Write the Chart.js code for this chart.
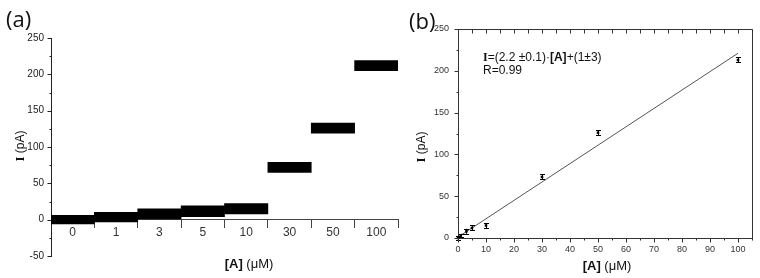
<!DOCTYPE html>
<html><head><meta charset="utf-8">
<script src="https://cdn.jsdelivr.net/npm/chart.js@4.4.0/dist/chart.umd.min.js"></script>
<style>
html,body{margin:0;padding:0;background:#fff;}
#wrap{position:relative;width:760px;height:278px;overflow:hidden;font-family:"Liberation Sans",Arial,sans-serif;color:#111;}
canvas{position:absolute;top:0;}
.lbl{position:absolute;white-space:nowrap;line-height:1;}
.panel{font-family:"Open Sans",sans-serif;font-size:22px;color:#111;}
.xtitle{transform:translate(-50%,-50%);font-size:13px;}
.ser{font-family:"Liberation Serif","DejaVu Serif",serif;font-weight:bold;}
</style></head>
<body>
<div id="wrap">
<canvas id="ca" width="405" height="278" style="left:0"></canvas>
<canvas id="cb" width="365" height="278" style="left:395px"></canvas>
<div class="lbl panel" style="left:6px;top:7px">(a)</div>
<div class="lbl panel" style="left:409px;top:9px">(b)</div>
<div class="lbl xtitle" style="left:249px;top:263px"><b>[A]</b> (μM)</div>
<div class="lbl xtitle" style="left:607px;top:265px"><b>[A]</b> (μM)</div>
<div class="lbl" style="left:483px;top:51px;font-size:12px"><span class="ser">I</span>=(2.2 ±0.1)·<b>[A]</b>+(1±3)</div>
<div class="lbl" style="left:483px;top:64px;font-size:12px">R=0.99</div>
</div>
<script>
// ---- data ----
const concLabels = ['0','1','3','5','10','30','50','100'];
const traceLow  = [-6, -3, 1, 4, 8, 65, 119, 205];
const traceHigh = [6, 10, 15, 19, 22, 79, 133, 219];
const concValues = [0, 1, 3, 5, 10, 30, 50, 100];
const meanCurrent = [0, 3, 8, 12, 15, 73, 126, 213];
const currentErr = [2, 2, 3, 3, 3, 3, 3, 3];
const fitX = [0, 100];
const fitY = [1, 221];

Chart.defaults.font.family = "'Liberation Sans', Arial, sans-serif";
Chart.defaults.animation = false;

const tickPlugin = {
  id: 'customTicks',
  afterDraw(chart, args, opts) {
    const ctx = chart.ctx, ca = chart.chartArea;
    ctx.save();
    ctx.strokeStyle = opts.color || '#222';
    ctx.lineWidth = 1;
    if (opts.box) {
      ctx.beginPath();
      ctx.moveTo(Math.round(ca.left) + 0.5, Math.round(ca.top) + 0.5);
      ctx.lineTo(Math.round(ca.right) + 0.5, Math.round(ca.top) + 0.5);
      ctx.lineTo(Math.round(ca.right) + 0.5, Math.round(ca.bottom) + 0.5);
      ctx.stroke();
    }
    (opts.axes || []).forEach(a => {
      const s = chart.scales[a.id];
      s.ticks.forEach(t => {
        const major = Math.abs(t.value % a.major) < 1e-9;
        const len = major ? a.majorLen : a.minorLen;
        const p = Math.round(s.getPixelForValue(t.value)) + 0.5;
        ctx.beginPath();
        if (a.side === 'left') {
          const x = Math.round(ca.left) + 0.5;
          ctx.moveTo(x - len, p); ctx.lineTo(x, p);
        } else if (a.side === 'bottom') {
          const y = Math.round(ca.bottom) + 0.5;
          ctx.moveTo(p, y); ctx.lineTo(p, y + len);
        } else if (a.side === 'top') {
          const y = Math.round(ca.top) + 0.5;
          ctx.moveTo(p, y); ctx.lineTo(p, y + len);
        }
        ctx.stroke();
      });
    });
    ctx.restore();
  }
};

const yTitlePlugin = {
  id: 'yTitle',
  afterDraw(chart, args, o) {
    const ctx = chart.ctx;
    ctx.save();
    ctx.translate(o.x, o.y);
    ctx.rotate(-Math.PI / 2);
    ctx.textBaseline = 'middle';
    ctx.textAlign = 'left';
    ctx.fillStyle = '#111';
    const f1 = 'bold 13px "Liberation Serif", "DejaVu Serif", serif';
    const f2 = '12px "Liberation Sans", Arial, sans-serif';
    ctx.font = f1; const w1 = ctx.measureText('I').width;
    ctx.font = f2; const w2 = ctx.measureText(' (pA)').width;
    const x0 = -(w1 + w2) / 2;
    ctx.font = f1; ctx.fillText('I', x0, 0);
    ctx.font = f2; ctx.fillText(' (pA)', x0 + w1, 0);
    ctx.restore();
  }
};

const errPlugin = {
  id: 'errBars',
  afterDatasetsDraw(chart) {
    const ctx = chart.ctx, xs = chart.scales.x, ys = chart.scales.y;
    ctx.save();
    ctx.strokeStyle = '#000';
    ctx.lineWidth = 1;
    concValues.forEach((c, i) => {
      const x = Math.round(xs.getPixelForValue(c)) + 0.5;
      const y1 = ys.getPixelForValue(meanCurrent[i] - currentErr[i]);
      const y2 = ys.getPixelForValue(meanCurrent[i] + currentErr[i]);
      ctx.beginPath();
      ctx.moveTo(x, y1); ctx.lineTo(x, y2);
      ctx.moveTo(x - 2.5, Math.round(y1) + 0.5); ctx.lineTo(x + 2.5, Math.round(y1) + 0.5);
      ctx.moveTo(x - 2.5, Math.round(y2) + 0.5); ctx.lineTo(x + 2.5, Math.round(y2) + 0.5);
      ctx.stroke();
    });
    ctx.restore();
  }
};

// ---- panel (a) ----
new Chart(document.getElementById('ca'), {
  type: 'bar',
  data: {
    labels: concLabels,
    datasets: [{
      data: traceLow.map((lo, i) => [lo, traceHigh[i]]),
      backgroundColor: '#000',
      borderWidth: 0,
      barPercentage: 1,
      categoryPercentage: 1
    }]
  },
  plugins: [tickPlugin, yTitlePlugin],
  options: {
    responsive: false,
    layout: { padding: { left: 0, top: 38, right: 7, bottom: 22 } },
    plugins: {
      legend: { display: false }, tooltip: { enabled: false },
      yTitle: { x: 21, y: 146 },
      customTicks: { color: '#222', axes: [{ id: 'y', side: 'left', major: 50, majorLen: 4, minorLen: 2 }] }
    },
    scales: {
      x: {
        type: 'category',
        position: { y: 0 },
        offset: true,
        grid: { display: true, offset: true, drawOnChartArea: false, drawTicks: true, tickLength: 8, color: '#444' },
        border: { display: true, color: '#444', width: 1 },
        ticks: { font: { size: 12 }, color: '#333', padding: -2, maxRotation: 0 }
      },
      y: {
        min: -50, max: 250,
        afterFit(s) { s.width = 51; },
        grid: { display: false, drawTicks: false },
        border: { display: true, color: '#222', width: 1 },
        ticks: { stepSize: 25, autoSkip: false, font: { size: 10 }, color: '#222', padding: 7,
                 callback: v => (v % 50 === 0 ? v : '') }
      }
    }
  }
});

// ---- panel (b) ----
new Chart(document.getElementById('cb'), {
  type: 'scatter',
  data: {
    datasets: [{
      type: 'scatter',
      data: concValues.map((c, i) => ({ x: c, y: meanCurrent[i] })),
      pointStyle: 'rect', pointRadius: 1.8, backgroundColor: '#000', borderWidth: 0,
      clip: false
    }, {
      type: 'line',
      data: fitX.map((c, i) => ({ x: c, y: fitY[i] })),
      borderColor: '#555', borderWidth: 1, pointRadius: 0, fill: false, tension: 0
    }]
  },
  plugins: [tickPlugin, errPlugin, yTitlePlugin],
  options: {
    responsive: false,
    layout: { padding: { left: 0, top: 29, right: 8, bottom: 0 } },
    plugins: {
      legend: { display: false }, tooltip: { enabled: false },
      yTitle: { x: 27, y: 147 },
      customTicks: {
        color: '#333', box: true,
        axes: [
          { id: 'y', side: 'left', major: 50, majorLen: 4, minorLen: 2 },
          { id: 'x', side: 'bottom', major: 10, majorLen: 4, minorLen: 2 },
          { id: 'x', side: 'top', major: 5, majorLen: 4, minorLen: 4 }
        ]
      }
    },
    scales: {
      x: {
        type: 'linear', min: 0, max: 105,
        afterFit(s) { s.height = 40; },
        grid: { display: false, drawTicks: false },
        border: { display: true, color: '#333', width: 1 },
        ticks: { stepSize: 5, autoSkip: false, maxRotation: 0, font: { size: 9 }, color: '#333', padding: 6,
                 callback: v => (v % 10 === 0 && v <= 100 ? v : '') }
      },
      y: {
        min: 0, max: 250,
        afterFit(s) { s.width = 63; },
        grid: { display: false, drawTicks: false },
        border: { display: true, color: '#333', width: 1 },
        ticks: { stepSize: 25, autoSkip: false, font: { size: 9 }, color: '#333', padding: 9,
                 callback: v => (v % 50 === 0 ? v : '') }
      }
    }
  }
});
</script>
</body></html>
